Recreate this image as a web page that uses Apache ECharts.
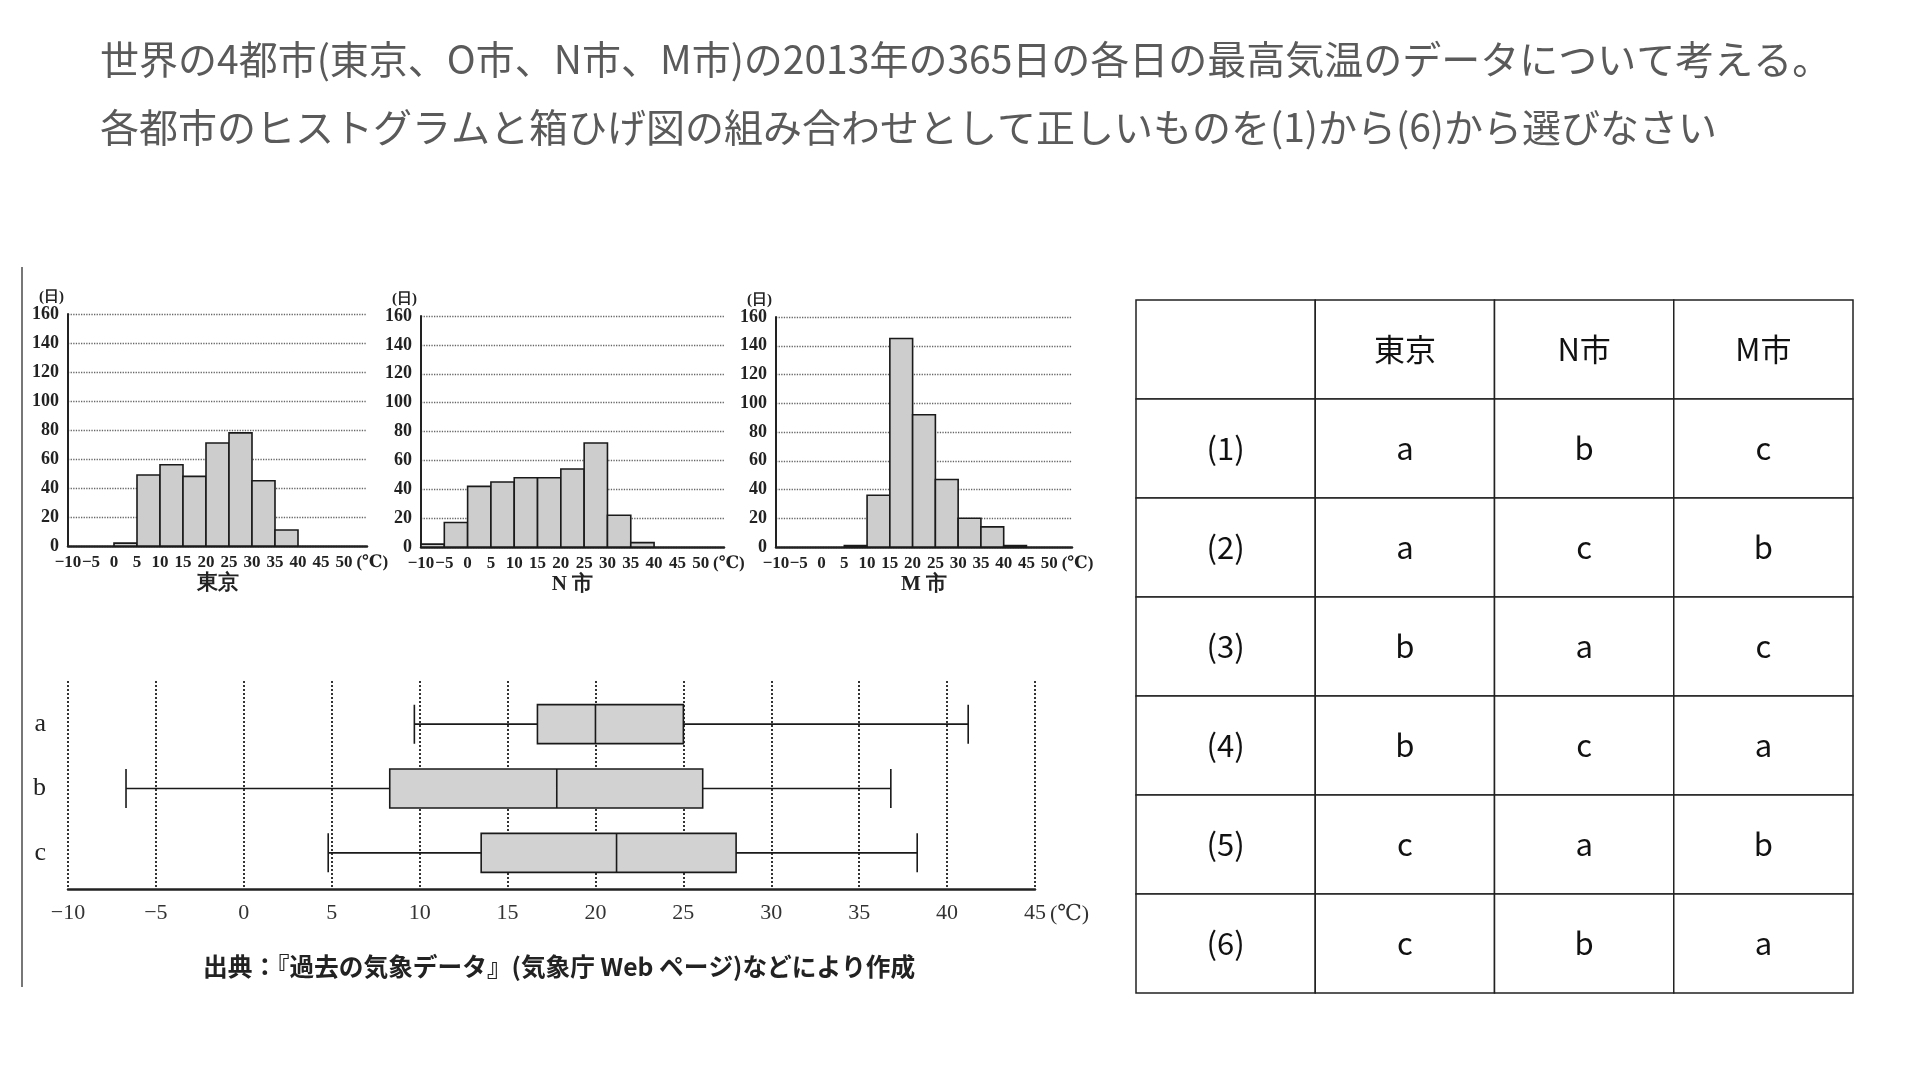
<!DOCTYPE html>
<html><head><meta charset="utf-8">
<script src="https://cdn.jsdelivr.net/npm/echarts@6/dist/echarts.min.js"></script>
<style>html,body{margin:0;padding:0;background:#fff}#c{width:1920px;height:1080px}</style>
</head><body><div id="c"></div>
<script>
// ---- data ----
const titleLines = [
  '世界の4都市(東京、O市、N市、M市)の2013年の365日の各日の最高気温のデータについて考える。',
  '各都市のヒストグラムと箱ひげ図の組み合わせとして正しいものを(1)から(6)から選びなさい'
];
const binStarts = [-10, -5, 0, 5, 10, 15, 20, 25, 30, 35, 40, 45, 50];
const tokyoCounts = [0, 0, 2, 49, 56, 48, 71, 78, 45, 11, 0, 0, 0];
const nCityCounts = [2, 17, 42, 45, 48, 48, 54, 72, 22, 3, 0, 0, 0];
const mCityCounts = [0, 0, 0, 1, 36, 145, 92, 47, 20, 14, 1, 0, 0];
const histNames = ['東京', 'N 市', 'M 市'];
const histYTicks = [0, 20, 40, 60, 80, 100, 120, 140, 160];
const boxCategories = ['a', 'b', 'c'];
const boxStats = [
  [9.7, 16.7, 20.0, 25.0, 41.2],
  [-6.7, 8.3, 17.8, 26.1, 36.8],
  [4.8, 13.5, 21.2, 28.0, 38.3]
];
const sourceNote = '出典：『過去の気象データ』(気象庁 Web ページ)などにより作成';
const tableHeader = ['', '東京', 'N市', 'M市'];
const tableRowLabels = ['(1)', '(2)', '(3)', '(4)', '(5)', '(6)'];
const tableChoices = [
  ['a', 'b', 'c'], ['a', 'c', 'b'], ['b', 'a', 'c'],
  ['b', 'c', 'a'], ['c', 'a', 'b'], ['c', 'b', 'a']
];

// ---- build ----
const SERIF = '"Liberation Serif", "DejaVu Serif", serif';
const CJK = '"Noto Sans CJK JP", sans-serif';
const minus = v => String(v).replace('-', '\u2212');

const histCounts = [tokyoCounts, nCityCounts, mCityCounts];
const histGrids = [
  { left: 68, top: 314, width: 299, height: 232 },
  { left: 421, top: 316, width: 303, height: 231 },
  { left: 776, top: 317, width: 296, height: 230 }
];

const grids = [], xAxes = [], yAxes = [], series = [];

histGrids.forEach((g, i) => {
  grids.push(Object.assign({ outerBoundsMode: 'none', containLabel: false }, g));
  xAxes.push({
    gridIndex: i, type: 'value', min: -10, max: 55, interval: 5,
    name: '(℃)', nameLocation: 'end', nameGap: -20,
    nameTextStyle: { fontFamily: SERIF, fontSize: 17, fontWeight: 'bold', color: '#222', align: 'left', verticalAlign: 'top', padding: [8, 0, 0, 0] },
    axisLine: { show: true, onZero: false, lineStyle: { color: '#222', width: 2.5 } },
    axisTick: { show: false }, splitLine: { show: false },
    axisLabel: {
      margin: 8, fontFamily: SERIF, fontSize: 17, fontWeight: 'bold', color: '#222',
      hideOverlap: false, showMinLabel: true, showMaxLabel: false,
      formatter: v => minus(v)
    }
  });
  yAxes.push({
    gridIndex: i, type: 'value', min: histYTicks[0], max: histYTicks[histYTicks.length - 1], interval: 20,
    name: '(日)', nameLocation: 'end', nameGap: 9,
    nameTextStyle: { fontFamily: SERIF, fontSize: 15, fontWeight: 'bold', color: '#222', align: 'right', verticalAlign: 'bottom', padding: [0, 4, 0, 0] },
    axisLine: { show: true, onZero: false, lineStyle: { color: '#222', width: 2 } },
    axisTick: { show: false },
    splitLine: { show: true, lineStyle: { color: '#666', type: 'dotted', width: 1.3 } },
    axisLabel: { margin: 9, fontFamily: SERIF, fontSize: 18, fontWeight: 'bold', color: '#222' }
  });
  series.push({
    type: 'custom', xAxisIndex: i, yAxisIndex: i,
    data: binStarts.map((s, k) => [s, histCounts[i][k]]),
    encode: { x: 0, y: 1 },
    renderItem: (params, api) => {
      const x0 = api.value(0), c = api.value(1);
      if (!c) return null;
      const p0 = api.coord([x0, c]);
      const p1 = api.coord([x0 + 5, 0]);
      return {
        type: 'rect',
        shape: { x: p0[0], y: p0[1], width: p1[0] - p0[0], height: p1[1] - p0[1] },
        style: { fill: '#cdcdcd', stroke: '#1a1a1a', lineWidth: 1.6 }
      };
    }
  });
});

// city names under histograms (one per histogram grid), via a hidden-line secondary x axis
histGrids.forEach((g, i) => {
  xAxes.push({
    gridIndex: i, type: 'value', min: -10, max: 55, position: 'bottom', offset: 0,
    name: histNames[i], nameLocation: 'middle', nameGap: 27,
    nameTextStyle: { fontFamily: SERIF, fontSize: 21, fontWeight: 'bold', color: '#222' },
    axisLine: { show: false }, axisTick: { show: false }, axisLabel: { show: false }, splitLine: { show: false }
  });
});

// boxplot frame grid (index 3): visible temperature axis and dotted guides
grids.push({ left: 68, top: 681, width: 967, height: 208, outerBoundsMode: 'none', containLabel: false });
const bxFrame = xAxes.length;
xAxes.push({
  gridIndex: 3, type: 'value', min: -10, max: 45, interval: 5,
  name: '(℃)', nameLocation: 'end', nameGap: 12,
  nameTextStyle: { fontFamily: SERIF, fontSize: 22, color: '#333', verticalAlign: 'top', padding: [14, 0, 0, 0] },
  axisLine: { show: true, onZero: false, lineStyle: { color: '#222', width: 2.5 } },
  axisTick: { show: false },
  splitLine: { show: true, showMinLine: true, showMaxLine: true, lineStyle: { color: '#333', type: 'dotted', width: 2 } },
  axisLabel: { margin: 13, fontFamily: SERIF, fontSize: 22, color: '#333', formatter: v => minus(v) }
});
yAxes.push({ gridIndex: 3, type: 'value', min: 0, max: 1, show: false });

// boxplot series grid (index 4): same temperature scale, category rows
grids.push({ left: 68, top: 692, width: 967, height: 193, outerBoundsMode: 'none', containLabel: false });
const bxSeriesX = xAxes.length;
xAxes.push({ gridIndex: 4, type: 'value', min: -10, max: 45, interval: 5, show: false });
yAxes.push({
  gridIndex: 4, type: 'category', data: boxCategories, inverse: true,
  axisLine: { show: false }, axisTick: { show: false }, splitLine: { show: false },
  axisLabel: { margin: 22, fontFamily: SERIF, fontSize: 26, color: '#222' }
});
series.push({
  type: 'boxplot', xAxisIndex: bxSeriesX, yAxisIndex: 4, data: boxStats,
  boxWidth: [39, 39],
  itemStyle: { color: '#d2d2d2', borderColor: '#1a1a1a', borderWidth: 1.6 },
  emphasis: { disabled: true }
});

// table grid (index 5)
grids.push({ left: 1136, top: 300, width: 717, height: 693, outerBoundsMode: 'none', containLabel: false });
const tblX = xAxes.length;
xAxes.push({ gridIndex: 5, type: 'category', data: [0, 1, 2, 3], show: false });
yAxes.push({ gridIndex: 5, type: 'category', data: [0, 1, 2, 3, 4, 5, 6], inverse: true, show: false });
const tableCells = [];
tableHeader.forEach((t, c) => tableCells.push([c, 0, t]));
tableRowLabels.forEach((lab, r) => {
  tableCells.push([0, r + 1, lab]);
  tableChoices[r].forEach((v, c) => tableCells.push([c + 1, r + 1, v]));
});
series.push({
  type: 'custom', xAxisIndex: tblX, yAxisIndex: 5,
  data: tableCells.map(d => [d[0], d[1]]),
  encode: { x: 0, y: 1 },
  renderItem: (params, api) => {
    const ctr = api.coord([api.value(0), api.value(1)]);
    const sz = api.size([1, 1]);
    return {
      type: 'group', children: [
        { type: 'rect', shape: { x: ctr[0] - sz[0] / 2, y: ctr[1] - sz[1] / 2, width: sz[0], height: sz[1] },
          style: { fill: '#fff', stroke: '#222', lineWidth: 1.5 } },
        { type: 'text', style: { text: tableCells[params.dataIndex][2], x: ctr[0], y: ctr[1],
          align: 'center', verticalAlign: 'middle', fontSize: 31, fontFamily: CJK, fill: '#111' } }
      ]
    };
  }
});

const option = {
  backgroundColor: '#fff',
  animation: false,
  title: [
    { text: titleLines[0], left: 100, top: 40, padding: 0,
      textStyle: { fontFamily: CJK, fontSize: 39, fontWeight: 'normal', color: '#5a5a5a' } },
    { text: titleLines[1], left: 100, top: 108, padding: 0,
      textStyle: { fontFamily: CJK, fontSize: 39, fontWeight: 'normal', color: '#5a5a5a' } },
    { text: sourceNote, left: 203, top: 954, padding: 0,
      textStyle: { fontFamily: CJK, fontSize: 24.7, fontWeight: 'bold', color: '#222' } }
  ],
  graphic: [
    { type: 'line', shape: { x1: 22, y1: 267, x2: 22, y2: 987 }, style: { stroke: '#777', lineWidth: 2 } }
  ],
  grid: grids, xAxis: xAxes, yAxis: yAxes, series: series
};
const chart = echarts.init(document.getElementById('c'), null, { renderer: 'canvas' });
chart.setOption(option);
</script></body></html>
